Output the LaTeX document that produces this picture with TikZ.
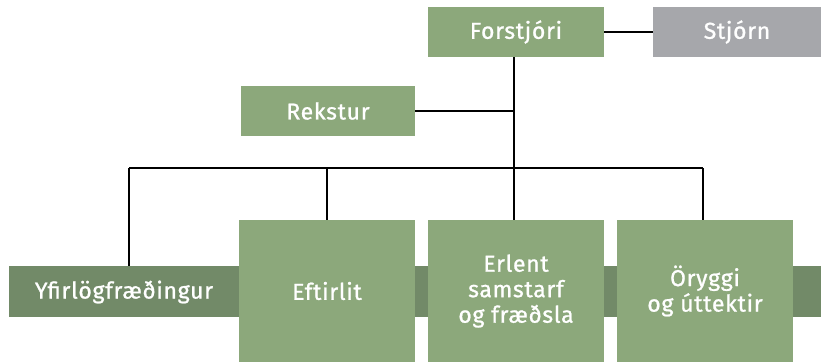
\documentclass[tikz,border=0pt]{standalone}
\usepackage{fontspec}
\setmainfont{Fira Sans}[LetterSpace=3,FakeBold=1]
\definecolor{lgreen}{HTML}{8CA87B}
\definecolor{dgreen}{HTML}{728A68}
\definecolor{sgray}{HTML}{A6A7AB}
\begin{document}
\begin{tikzpicture}[x=1pt,y=-1pt,
  lbl/.style={font=\fontsize{23}{25.5}\selectfont},
  box/.style={rectangle,fill=lgreen,text=white,inner sep=0pt,align=center,lbl},
  conn/.style={draw=black,line width=1.2pt}]
\useasboundingbox (0,0) rectangle (821,362);
% band
\node[rectangle,fill=dgreen,inner sep=0pt,minimum width=812pt,minimum height=51pt] (band) at (415,291.5) {};
\node[text=white,inner sep=0pt,lbl] (yfir) at (124,292) {Yfirlögfræðingur};
% top
\node[box,minimum width=176pt,minimum height=50pt] (forst) at (516,32) {Forstjóri};
\node[box,fill=sgray,minimum width=168pt,minimum height=50pt] (stjorn) at (737,32) {Stjórn};
\node[box,minimum width=174pt,minimum height=50pt] (rekstur) at (328,111) {Rekstur};
% bottom boxes
\node[box,minimum width=176pt,minimum height=142pt] (eft) at (327,291) {Eftirlit};
\node[box,minimum width=176pt,minimum height=142pt] (erl) at (516,291) {Erlent\\samstarf\\og fræðsla};
\node[box,minimum width=176pt,minimum height=142pt] (ory) at (705,291) {Öryggi\\og úttektir};
% connector coordinates
\coordinate (hl) at (129,168);
\coordinate (hr) at (703,168);
\coordinate (hm) at (514,168);
\coordinate (heft) at (327,168);
% connectors
\draw[conn] (forst.east) -- (stjorn.west);
\draw[conn] (forst.south -| hm) -- (erl.north -| hm);
\draw[conn] (rekstur.east) -- (rekstur.east -| hm);
\draw[conn] (hl) -- (hr);
\draw[conn] (hl) -- (hl |- band.north);
\draw[conn] (heft) -- (eft.north -| heft);
\draw[conn] (hr) -- (ory.north -| hr);
\end{tikzpicture}
\end{document}
